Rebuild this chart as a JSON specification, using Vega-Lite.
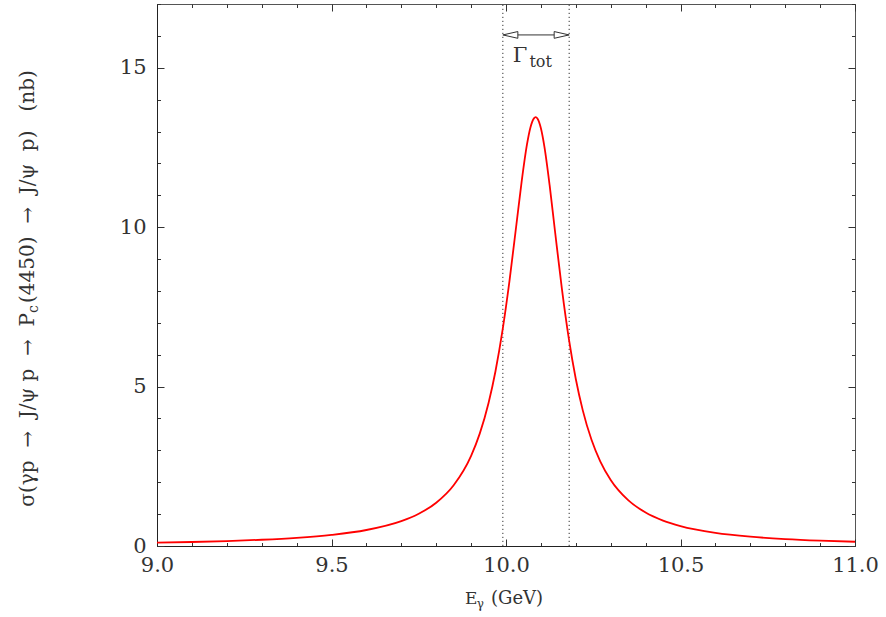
{
  "$schema": "https://vega.github.io/schema/vega-lite/v6.json",
  "width": 698,
  "height": 542,
  "autosize": {"type": "none"},
  "padding": {"left": 157, "top": 4, "right": 31, "bottom": 71},
  "background": "white",
  "config": {
    "view": {"stroke": "#555", "strokeWidth": 1},
    "axis": {
      "grid": false,
      "domain": false,
      "tickColor": "#333",
      "tickWidth": 1,
      "labelFont": "DejaVu Serif",
      "labelFontSize": 21,
      "labelColor": "#333",
      "labelFlush": false,
      "labelOverlap": false,
      "labelBound": false,
      "titleFont": "DejaVu Serif",
      "titleFontWeight": "normal",
      "titleColor": "#333"
    }
  },
  "datasets": {
    "curve": [
      {"E": 9.0, "sigma": 0.103},
      {"E": 9.1, "sigma": 0.125},
      {"E": 9.2, "sigma": 0.155},
      {"E": 9.3, "sigma": 0.196},
      {"E": 9.4, "sigma": 0.256},
      {"E": 9.5, "sigma": 0.349},
      {"E": 9.6, "sigma": 0.502},
      {"E": 9.7, "sigma": 0.780},
      {"E": 9.75, "sigma": 1.011},
      {"E": 9.8, "sigma": 1.358},
      {"E": 9.85, "sigma": 1.906},
      {"E": 9.9, "sigma": 2.830},
      {"E": 9.925, "sigma": 3.533},
      {"E": 9.95, "sigma": 4.486},
      {"E": 9.97, "sigma": 5.490},
      {"E": 9.99, "sigma": 6.760},
      {"E": 10.01, "sigma": 8.319},
      {"E": 10.03, "sigma": 10.100},
      {"E": 10.045, "sigma": 11.443},
      {"E": 10.06, "sigma": 12.587},
      {"E": 10.07, "sigma": 13.126},
      {"E": 10.08, "sigma": 13.413},
      {"E": 10.085, "sigma": 13.450},
      {"E": 10.09, "sigma": 13.410},
      {"E": 10.1, "sigma": 13.103},
      {"E": 10.11, "sigma": 12.528},
      {"E": 10.125, "sigma": 11.316},
      {"E": 10.14, "sigma": 9.912},
      {"E": 10.16, "sigma": 8.079},
      {"E": 10.18, "sigma": 6.503},
      {"E": 10.2, "sigma": 5.239},
      {"E": 10.22, "sigma": 4.254},
      {"E": 10.245, "sigma": 3.330},
      {"E": 10.27, "sigma": 2.655},
      {"E": 10.3, "sigma": 2.071},
      {"E": 10.35, "sigma": 1.438},
      {"E": 10.4, "sigma": 1.050},
      {"E": 10.45, "sigma": 0.798},
      {"E": 10.5, "sigma": 0.625},
      {"E": 10.6, "sigma": 0.413},
      {"E": 10.7, "sigma": 0.292},
      {"E": 10.8, "sigma": 0.217},
      {"E": 10.9, "sigma": 0.168},
      {"E": 11.0, "sigma": 0.134}
    ]
  },
  "layer": [
    {
      "data": {"name": "curve"},
      "mark": {"type": "line", "opacity": 0},
      "encoding": {
        "x": {"field": "E", "type": "quantitative", "scale": {"domain": [9, 11], "nice": false, "zero": false},
          "axis": {"orient": "top", "values": [9, 9.5, 10, 10.5, 11], "tickSize": -7, "labels": false, "title": null}},
        "y": {"field": "sigma", "type": "quantitative", "scale": {"domain": [0, 17], "nice": false, "zero": false},
          "axis": {"orient": "right", "values": [0, 5, 10, 15], "tickSize": -7, "labels": false, "title": null}}
      }
    },
    {
      "data": {"name": "curve"},
      "mark": {"type": "line", "opacity": 0},
      "encoding": {
        "x": {"field": "E", "type": "quantitative", "scale": {"domain": [9, 11], "nice": false, "zero": false},
          "axis": {"orient": "bottom", "values": [9.1, 9.2, 9.3, 9.4, 9.6, 9.7, 9.8, 9.9, 10.1, 10.2, 10.3, 10.4, 10.6, 10.7, 10.8, 10.9], "tickSize": -3.5, "labels": false, "title": null}},
        "y": {"field": "sigma", "type": "quantitative", "scale": {"domain": [0, 17], "nice": false, "zero": false},
          "axis": {"orient": "left", "values": [1, 2, 3, 4, 6, 7, 8, 9, 11, 12, 13, 14, 16, 17], "tickSize": -3.5, "labels": false, "title": null}}
      }
    },
    {
      "data": {"name": "curve"},
      "mark": {"type": "line", "opacity": 0},
      "encoding": {
        "x": {"field": "E", "type": "quantitative", "scale": {"domain": [9, 11], "nice": false, "zero": false},
          "axis": {"orient": "top", "values": [9.1, 9.2, 9.3, 9.4, 9.6, 9.7, 9.8, 9.9, 10.1, 10.2, 10.3, 10.4, 10.6, 10.7, 10.8, 10.9], "tickSize": -3.5, "labels": false, "title": null}},
        "y": {"field": "sigma", "type": "quantitative", "scale": {"domain": [0, 17], "nice": false, "zero": false},
          "axis": {"orient": "right", "values": [1, 2, 3, 4, 6, 7, 8, 9, 11, 12, 13, 14, 16, 17], "tickSize": -3.5, "labels": false, "title": null}}
      }
    },
    {
      "mark": {"type": "rule", "stroke": "#333", "strokeWidth": 1, "strokeDash": [1.2, 2.8]},
      "data": {"values": [{"pos": 9.991}, {"pos": 10.181}]},
      "encoding": {
        "x": {"field": "pos", "type": "quantitative", "scale": {"domain": [9, 11], "nice": false, "zero": false}, "axis": null},
        "y": {"datum": 0, "type": "quantitative", "scale": {"domain": [0, 17], "nice": false, "zero": false}, "axis": null},
        "y2": {"datum": 17}
      }
    },
    {
      "data": {"values": [{}]},
      "mark": {"type": "rule", "stroke": "#333", "strokeWidth": 1},
      "encoding": {
        "x": {"datum": 9.995, "type": "quantitative", "scale": {"domain": [9, 11], "nice": false, "zero": false}, "axis": null},
        "x2": {"datum": 10.177},
        "y": {"datum": 16.03, "type": "quantitative", "scale": {"domain": [0, 17], "nice": false, "zero": false}, "axis": null}
      }
    },
    {
      "data": {"values": [{}]},
      "mark": {"type": "point", "shape": "M 0 0 L 2 -0.45 L 2 0.45 Z", "size": 225, "filled": true, "fill": "white", "stroke": "#333", "strokeWidth": 1, "opacity": 1},
      "encoding": {
        "x": {"datum": 9.991, "type": "quantitative", "scale": {"domain": [9, 11], "nice": false, "zero": false}, "axis": null},
        "y": {"datum": 16.03, "type": "quantitative", "scale": {"domain": [0, 17], "nice": false, "zero": false}, "axis": null}
      }
    },
    {
      "data": {"values": [{}]},
      "mark": {"type": "point", "shape": "M 0 0 L -2 -0.45 L -2 0.45 Z", "size": 225, "filled": true, "fill": "white", "stroke": "#333", "strokeWidth": 1, "opacity": 1},
      "encoding": {
        "x": {"datum": 10.181, "type": "quantitative", "scale": {"domain": [9, 11], "nice": false, "zero": false}, "axis": null},
        "y": {"datum": 16.03, "type": "quantitative", "scale": {"domain": [0, 17], "nice": false, "zero": false}, "axis": null}
      }
    },
    {
      "data": {"values": [{}]},
      "mark": {"type": "text", "text": "Γ", "font": "DejaVu Serif", "fontSize": 21, "align": "right", "baseline": "alphabetic", "color": "#333"},
      "encoding": {
        "x": {"datum": 10.061, "type": "quantitative", "scale": {"domain": [9, 11], "nice": false, "zero": false}, "axis": null},
        "y": {"datum": 15.18, "type": "quantitative", "scale": {"domain": [0, 17], "nice": false, "zero": false}, "axis": null}
      }
    },
    {
      "data": {"values": [{}]},
      "mark": {"type": "text", "text": "tot", "font": "DejaVu Serif", "fontSize": 16, "align": "left", "baseline": "alphabetic", "color": "#333"},
      "encoding": {
        "x": {"datum": 10.067, "type": "quantitative", "scale": {"domain": [9, 11], "nice": false, "zero": false}, "axis": null},
        "y": {"datum": 15.024, "type": "quantitative", "scale": {"domain": [0, 17], "nice": false, "zero": false}, "axis": null}
      }
    },
    {
      "data": {"values": [{}]},
      "mark": {"type": "text", "text": "σ(γp\u00a0\u00a0→\u00a0\u00a0J/ψ\u00a0p\u00a0\u00a0→\u00a0\u00a0P", "font": "DejaVu Serif", "fontSize": 20, "angle": 270, "align": "right", "baseline": "alphabetic", "color": "#333"},
      "encoding": {
        "x": {"datum": 8.648, "type": "quantitative", "scale": {"domain": [9, 11], "nice": false, "zero": false}, "axis": null},
        "y": {"datum": 7.308, "type": "quantitative", "scale": {"domain": [0, 17], "nice": false, "zero": false}, "axis": null}
      }
    },
    {
      "data": {"values": [{}]},
      "mark": {"type": "text", "text": "c", "font": "DejaVu Serif", "fontSize": 14, "angle": 270, "align": "left", "baseline": "alphabetic", "dy": 4, "color": "#333"},
      "encoding": {
        "x": {"datum": 8.648, "type": "quantitative", "scale": {"domain": [9, 11], "nice": false, "zero": false}, "axis": null},
        "y": {"datum": 7.308, "type": "quantitative", "scale": {"domain": [0, 17], "nice": false, "zero": false}, "axis": null}
      }
    },
    {
      "data": {"values": [{}]},
      "mark": {"type": "text", "text": "(4450)\u00a0\u00a0→\u00a0\u00a0J/ψ\u00a0\u00a0p)\u00a0\u00a0\u00a0(nb)", "font": "DejaVu Serif", "fontSize": 20, "angle": 270, "align": "left", "baseline": "alphabetic", "color": "#333"},
      "encoding": {
        "x": {"datum": 8.648, "type": "quantitative", "scale": {"domain": [9, 11], "nice": false, "zero": false}, "axis": null},
        "y": {"datum": 7.622, "type": "quantitative", "scale": {"domain": [0, 17], "nice": false, "zero": false}, "axis": null}
      }
    },
    {
      "data": {"values": [{}]},
      "mark": {"type": "text", "text": "E", "font": "DejaVu Serif", "fontSize": 17, "align": "left", "baseline": "alphabetic", "color": "#333"},
      "encoding": {
        "x": {"datum": 9.8825, "type": "quantitative", "scale": {"domain": [9, 11], "nice": false, "zero": false}, "axis": null},
        "y": {"datum": -1.819, "type": "quantitative", "scale": {"domain": [0, 17], "nice": false, "zero": false}, "axis": null}
      }
    },
    {
      "data": {"values": [{}]},
      "mark": {"type": "text", "text": "γ", "font": "DejaVu Serif", "fontSize": 12, "align": "left", "baseline": "alphabetic", "dy": 4, "color": "#333"},
      "encoding": {
        "x": {"datum": 9.916, "type": "quantitative", "scale": {"domain": [9, 11], "nice": false, "zero": false}, "axis": null},
        "y": {"datum": -1.819, "type": "quantitative", "scale": {"domain": [0, 17], "nice": false, "zero": false}, "axis": null}
      }
    },
    {
      "data": {"values": [{}]},
      "mark": {"type": "text", "text": "(GeV)", "font": "DejaVu Serif", "fontSize": 18, "align": "left", "baseline": "alphabetic", "color": "#333"},
      "encoding": {
        "x": {"datum": 9.957, "type": "quantitative", "scale": {"domain": [9, 11], "nice": false, "zero": false}, "axis": null},
        "y": {"datum": -1.819, "type": "quantitative", "scale": {"domain": [0, 17], "nice": false, "zero": false}, "axis": null}
      }
    },
    {
      "data": {"name": "curve"},
      "mark": {"type": "line", "color": "#ff0000", "strokeWidth": 1.8, "interpolate": "monotone"},
      "encoding": {
        "x": {"field": "E", "type": "quantitative", "scale": {"domain": [9, 11], "nice": false, "zero": false},
          "axis": {"orient": "bottom", "values": [9, 9.5, 10, 10.5, 11], "format": ".1f", "tickSize": -7, "labelPadding": 15, "domain": true, "domainColor": "#222", "title": null}},
        "y": {"field": "sigma", "type": "quantitative", "scale": {"domain": [0, 17], "nice": false, "zero": false},
          "axis": {"orient": "left", "values": [0, 5, 10, 15], "tickSize": -7, "labelPadding": 18, "domain": true, "domainColor": "#222", "title": null}}
      }
    }
  ],
  "resolve": {"axis": {"x": "independent", "y": "independent"}}
}
